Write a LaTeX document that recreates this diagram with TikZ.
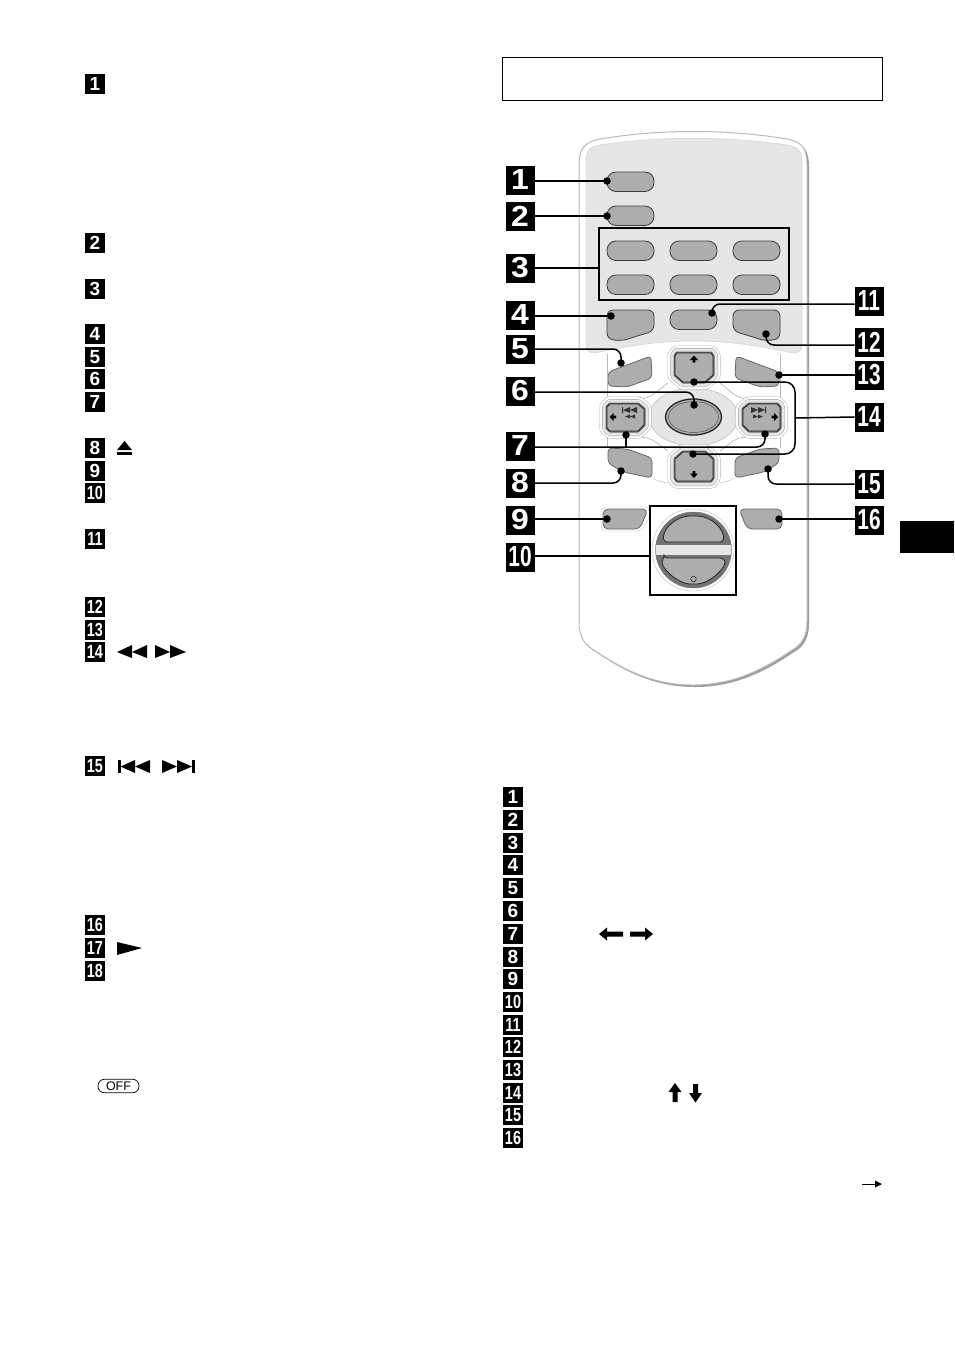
\documentclass[tikz,border=0pt]{standalone}
\usepackage{fontspec}
\usepackage{graphicx}
\setmainfont{Liberation Sans}
\newcommand{\bgnum}[1]{\ifnum#1>9 \scalebox{0.72}[1]{#1}\else \scalebox{1.1}[1]{#1}\fi}
\newcommand{\smnum}[1]{\ifnum#1>9 \scalebox{0.76}[1]{#1}\else #1\fi}
\tikzset{
  bigb/.style={fill=black,text=white,minimum size=29pt,inner sep=0pt,outer sep=0pt,font=\fontsize{29}{29}\selectfont\bfseries},
  smb/.style={fill=black,text=white,minimum size=20pt,inner sep=0pt,outer sep=0pt,font=\fontsize{19}{19}\selectfont\bfseries},
  lead/.style={line width=1.5pt,black,rounded corners=8pt},
  dotm/.style={circle,fill=black,minimum size=7.5pt,inner sep=0pt},
  btn/.style={fill=btngray,draw=btnline,line width=0.8pt},
  thin gray/.style={draw=gray!55,line width=0.4pt},
}
\definecolor{btngray}{HTML}{ADADAD}
\definecolor{btnline}{HTML}{3C3C3C}
\definecolor{panel}{HTML}{E6E6E6}
\def\bodypath{(579,165) .. controls (579,148) and (585,142) .. (600,139) .. controls (660,129) and (727,129) .. (787,139) .. controls (802,142) and (807,148) .. (807,165) -- (807,622) .. controls (807,635) and (802,645) .. (792,650) .. controls (760,672) and (730,685) .. (693,685) .. controls (656,685) and (626,672) .. (594,650) .. controls (584,645) and (579,635) .. (579,622) -- cycle}
\def\uppath{(677,353) -- (711,353) -- (713,356) -- (713,375) -- (705,382) -- (683,382) -- (675,375) -- (675,356) -- cycle}
\def\leftpath{(610,404) -- (638,404) -- (644,409) -- (644,425) -- (638,431) -- (610,431) -- (607,428) -- (607,407) -- cycle}
\newcommand{\ringed}[1]{
  \draw[line join=round,line width=15pt,gray!60] #1;
  \draw[line join=round,line width=14pt,white] #1;
  \draw[line join=round,line width=10pt,gray!70] #1;
  \draw[line join=round,line width=9pt,panel] #1;
  \draw[line join=round,line width=3pt,black!60] #1;
  \fill[btngray] #1;
  \draw[line join=round,line width=0.8pt,black!85] #1;
}
\begin{document}
\begin{tikzpicture}[x=1pt,y=-1pt]
\useasboundingbox (0,0) rectangle (954,1352);
\fill[white] (0,0) rectangle (954,1352);

% left column badges
\foreach \n/\y in {1/84,2/243,3/289,4/334,5/357,6/379,7/402,8/448,9/471,10/493,11/539,12/607,13/630,14/652,15/766,16/925,17/948,18/971}
  \node[smb] (A\n) at (95,\y) {\smnum{\n}};
% right list badges
\foreach \n/\y in {1/797,2/820,3/843,4/865,5/888,6/911,7/934,8/957,9/979,10/1002,11/1025,12/1047,13/1070,14/1093,15/1115,16/1138}
  \node[smb] (B\n) at (513,\y) {\smnum{\n}};

% left column symbols
\fill (117,450) -- (124.5,441) -- (132,450) -- cycle;
\fill (117,452) rectangle (132,455);
\fill (117,652) -- (132,645) -- (132,658) -- cycle;
\fill (132,652) -- (147,645) -- (147,658) -- cycle;
\fill (155,645) -- (170,652) -- (155,658) -- cycle;
\fill (170,645) -- (186,652) -- (170,658) -- cycle;
\fill (118,760) rectangle (120.5,773);
\fill (120.5,766.5) -- (135,760) -- (135,773) -- cycle;
\fill (135,766.5) -- (150,760) -- (150,773) -- cycle;
\fill (162,760) -- (177,766.5) -- (162,773) -- cycle;
\fill (177,760) -- (192,766.5) -- (177,773) -- cycle;
\fill (192,760) rectangle (195,773);
\fill (117,942) -- (142,948) -- (117,955) -- cycle;
\node[draw=black,line width=0.7pt,rounded corners=6.5pt,minimum width=41pt,minimum height=13.5pt,inner sep=0pt,font=\fontsize{12.5}{12.5}\selectfont] (off) at (118.5,1086) {OFF};

% right column symbols
\fill (599,934) -- (607,927.5) -- (607,931.5) -- (623,931.5) -- (623,936.5) -- (607,936.5) -- (607,940.5) -- cycle;
\fill (653,934) -- (645,927.5) -- (645,931.5) -- (630,931.5) -- (630,936.5) -- (645,936.5) -- (645,940.5) -- cycle;
\fill (675,1083) -- (681.5,1092) -- (677.5,1092) -- (677.5,1102) -- (672.5,1102) -- (672.5,1092) -- (668.5,1092) -- cycle;
\fill (695.5,1102.5) -- (689,1093) -- (693,1093) -- (693,1084) -- (698,1084) -- (698,1093) -- (702,1093) -- cycle;
\draw[line width=0.7pt] (862,1184) -- (876,1184);
\fill (882,1184) -- (875,1180.5) -- (875,1187.5) -- cycle;

% header box and tab
\node[draw=black,line width=0.7pt,minimum width=380pt,minimum height=43pt,inner sep=0pt,outer sep=0pt] (head) at (692.5,79) {};
\fill[black] (900,521) rectangle (954,553);

% remote body
\begin{scope}[xshift=2pt,yshift=-2pt]
\fill[black!38] \bodypath;
\end{scope}
\draw[fill=white,draw=gray!55,line width=1pt] \bodypath;
% panel
\fill[panel,draw=gray!35,line width=0.5pt] (586,160) .. controls (586,150) and (590,147) .. (600,145) .. controls (660,136) and (727,136) .. (787,145) .. controls (797,147) and (802,150) .. (802,160) -- (802,345) .. controls (802,351) and (799,353) .. (793,353) .. controls (760,346) and (730,341) .. (694,341) .. controls (657,341) and (627,346) .. (595,353) .. controls (589,353) and (586,351) .. (586,345) -- cycle;

% top buttons
\foreach \nm/\xa/\ya in {k1/607/172,k2/607/206,k3/607/241,k4/670/241,k5/733/241,k6/607/275,k7/670/275,k8/733/275,k9/670/310}
  \draw[btn,rounded corners=9pt] (\xa,\ya) rectangle ++(47,19.5);
% row 4 shaped buttons
\draw[btn,rounded corners=6pt] (607,310) -- (654,310) -- (654,331) -- (634,337) -- (622,341) -- (607,339) -- cycle;
\draw[btn,rounded corners=6pt] (780,310) -- (733,310) -- (733,331) -- (753,337) -- (765,341) -- (780,339) -- cycle;
% row 5 and 8 shaped buttons
\draw[btn,draw=black!60,rounded corners=4pt] (608,372) -- (651,356) -- (652,378) -- (627,387) -- (608,386) -- cycle;
\draw[btn,draw=black!60,rounded corners=4pt] (779,372) -- (736,356) -- (735,378) -- (760,387) -- (779,386) -- cycle;
\draw[btn,draw=black!60,rounded corners=4pt] (608,448) -- (627,449) -- (652,458) -- (652,478) -- (623,472) -- (608,463) -- cycle;
\draw[btn,draw=black!60,rounded corners=4pt] (779,448) -- (760,449) -- (735,458) -- (735,478) -- (764,472) -- (779,463) -- cycle;

% d-pad surroundings
\draw[thin gray] (607,354) -- (607,400) (780,354) -- (780,400) (607,438) -- (607,448) (780,438) -- (780,448);
\draw[thin gray] (652,478) .. controls (658,481) and (662,482) .. (668,483) (735,478) .. controls (729,481) and (725,482) .. (720,483);
\draw[gray!70,line width=0.5pt,rounded corners=6pt] (668,383) -- (650,397) -- (640,399);
\draw[gray!70,line width=0.5pt,rounded corners=6pt] (720,383) -- (737,397) -- (747,399);
\draw[gray!70,line width=0.5pt,rounded corners=6pt] (668,451) -- (650,438) -- (640,437);
\draw[gray!70,line width=0.5pt,rounded corners=6pt] (720,451) -- (737,438) -- (747,437);
\draw[fill=panel,draw=gray!60,line width=0.4pt] (693.5,417) ellipse [x radius=44.5pt,y radius=29pt];

\ringed{\uppath}
\begin{scope}[shift={(0,834)},yscale=-1]\ringed{\uppath}\end{scope}
\ringed{\leftpath}
\begin{scope}[shift={(1387,0)},xscale=-1]\ringed{\leftpath}\end{scope}

% centre oval
\draw[fill=btngray,draw=black!85,line width=1.3pt] (693.5,417) ellipse [x radius=28pt,y radius=18pt];
\draw[draw=black!70,line width=0.5pt] (693.5,417) ellipse [x radius=25pt,y radius=15.5pt];

% d-pad glyphs
\fill (694,355.5) -- (698,360) -- (695.3,360) -- (695.3,362.5) -- (692.7,362.5) -- (692.7,360) -- (690,360) -- cycle;
\fill (694,478) -- (698,473.5) -- (695.3,473.5) -- (695.3,471) -- (692.7,471) -- (692.7,473.5) -- (690,473.5) -- cycle;
\fill (609.5,417) -- (613.5,413) -- (613.5,415.7) -- (616,415.7) -- (616,418.3) -- (613.5,418.3) -- (613.5,421) -- cycle;
\fill (778,417) -- (774,413) -- (774,415.7) -- (771.5,415.7) -- (771.5,418.3) -- (774,418.3) -- (774,421) -- cycle;
\fill[black!80] (622,407) rectangle (623,413) (623,410) -- (630,407) -- (630,413) -- cycle (630,410) -- (637,407) -- (637,413) -- cycle;
\fill[black!80] (625,416.5) -- (630,414.5) -- (630,418.5) -- cycle (630,416.5) -- (635,414.5) -- (635,418.5) -- cycle;
\fill[black!80] (751,407) -- (758,410) -- (751,413) -- cycle (758,407) -- (765,410) -- (758,413) -- cycle (765,407) rectangle (766,413);
\fill[black!80] (753,414.5) -- (758,416.5) -- (753,418.5) -- cycle (758,414.5) -- (763,416.5) -- (758,418.5) -- cycle;

% volume and side buttons
\draw[draw=gray!45,fill=white,line width=0.4pt,rounded corners=5pt] (601,507) -- (650,507) -- (650,516) -- (642,531) -- (601,531) -- cycle;
\draw[btn,draw=black!60,rounded corners=5pt] (603,509) -- (648,509) -- (640,529) -- (603,529) -- cycle;
\draw[btn,draw=black!60,rounded corners=5pt] (782,509) -- (739,509) -- (747,529) -- (782,529) -- cycle;
\draw[draw=gray!50,line width=0.4pt] (693,550) circle[radius=41pt];
\draw[fill=panel,draw=black!50,line width=0.5pt] (693.5,550) circle[radius=38pt];
\begin{scope}
\clip (693.5,550) circle[radius=38pt];
\fill[black!55] (650,505) rectangle (737,545);
\fill[black!55] (650,555) rectangle (737,595);
\end{scope}
\draw[fill=btngray,draw=black!85,line width=0.8pt,rounded corners=3pt] (664,542) .. controls (662,530) and (675,516) .. (693.5,516) .. controls (712,516) and (725,530) .. (723,542) -- cycle;
\draw[fill=btngray,draw=black!85,line width=0.8pt,rounded corners=3pt] (664,558) -- (723,558) .. controls (728,566) and (710,584) .. (693.5,584) .. controls (677,584) and (659,566) .. (664,558) -- cycle;
\draw[fill=none,draw=black,line width=0.4pt] (693.5,579) circle[radius=2.8pt];

% boxes
\node[draw=black,line width=1.5pt,minimum width=190pt,minimum height=72pt,inner sep=0pt,outer sep=0pt] (bx3) at (694,264) {};
\node[draw=black,line width=1.5pt,minimum width=86pt,minimum height=89pt,inner sep=0pt,outer sep=0pt] (bx10) at (693,550.5) {};

% callout badges
\foreach \n/\y in {1/180,2/216,3/268,4/315,5/349,6/391,7/446,8/483,9/520,10/557}
  \node[bigb] (L\n) at (520,\y) {\bgnum{\n}};
\foreach \n/\y in {11/301,12/342,13/375,14/417,15/484,16/520}
  \node[bigb] (R\n) at (869,\y) {\bgnum{\n}};

% dots
\foreach \nm/\x/\y in {d1/607/181,d2/607/216,d4/611/316,d5/621/363,d6/694/405,d7a/626/435,d7b/765/434,d8/621/471,d9/607/519,d11/712/313,d12/766/334,d13/779/375,d14a/694/382,d14b/693/454,d15/768/469,d16/779/519}
  \node[dotm] (\nm) at (\x,\y) {};

\coordinate (j14) at (795,418);
\coordinate (j7) at ([yshift=-1pt]L7.east);
\coordinate (j10) at ([yshift=1pt]L10.east);
% connectors
\draw[lead] (L1.east |- d1) -- (d1.center);
\draw[lead] (L2.east) -- (d2.center);
\draw[lead] (L3.east) -- (bx3.west |- L3.east);
\draw[lead] (L4.east |- d4) -- (d4.center);
\draw[lead] (L5.east) -| (d5.center);
\draw[lead] ([yshift=-1pt]L6.east) -| (d6.center);
\draw[lead] (j7) -| (d7b.center);
\draw[lead] (d7a.center) -- (d7a |- j7);
\draw[lead] (L8.east) -| (d8.center);
\draw[lead] (L9.east |- d9) -- (d9.center);
\draw[lead] (j10) -- (bx10.west |- j10);
\draw[lead] ([yshift=-3pt]R11.west) -| (d11.center);
\draw[lead] ([yshift=-3pt]R12.west) -| (d12.center);
\draw[lead] (R13.west) -- (d13.center);
\draw[lead] (R14.west) -- (j14);
\draw[lead,rounded corners=10pt] (d14a.center) -| (j14) |- (d14b.center);
\draw[lead] (R15.west) -| (d15.center);
\draw[lead] (R16.west |- d16) -- (d16.center);
\end{tikzpicture}
\end{document}
